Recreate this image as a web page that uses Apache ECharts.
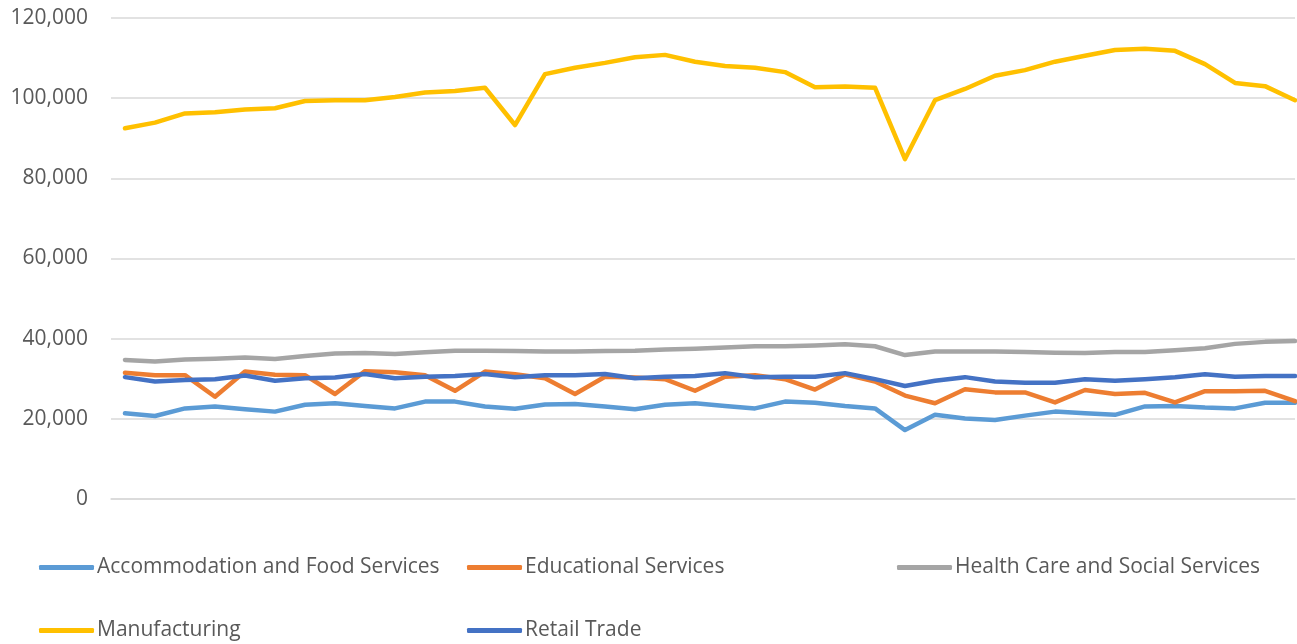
<!DOCTYPE html>
<html>
<head>
<meta charset="utf-8">
<script src="https://cdn.jsdelivr.net/npm/echarts@6/dist/echarts.min.js"></script>
<style>
html,body{margin:0;padding:0;background:#fff;}
#chart{width:1297px;height:644px;}
</style>
</head>
<body>
<div id="chart"></div>
<script>
const periods = Array.from({length: 40}, (_, i) => i);

const seriesNames = [
  'Accommodation and Food Services',
  'Educational Services',
  'Health Care and Social Services',
  'Manufacturing',
  'Retail Trade'
];

const accommodation = [21400, 20700, 22600, 23100, 22400, 21800, 23500, 23900, 23200, 22600,
  24300, 24300, 23100, 22500, 23600, 23700, 23100, 22400, 23500, 23900,
  23200, 22600, 24300, 24000, 23200, 22600, 17200, 21000, 20100, 19700,
  20800, 21800, 21400, 21000, 23100, 23200, 22800, 22600, 24000, 24000];

const educational = [31500, 30900, 30900, 25500, 31800, 31000, 30900, 26200, 31900, 31600,
  30900, 27000, 31800, 31100, 30100, 26200, 30500, 30300, 29900, 27000,
  30500, 30900, 29900, 27300, 31100, 29300, 25800, 23900, 27400, 26600,
  26600, 24100, 27200, 26200, 26500, 24100, 26900, 26900, 27000, 24400];

const healthCare = [34700, 34300, 34800, 35000, 35300, 34900, 35700, 36300, 36400, 36200,
  36600, 37000, 37000, 36900, 36800, 36800, 36900, 37000, 37300, 37500,
  37800, 38100, 38100, 38300, 38600, 38100, 35900, 36800, 36800, 36800,
  36700, 36500, 36400, 36700, 36700, 37100, 37600, 38700, 39200, 39400];

const manufacturing = [92500, 93900, 96200, 96500, 97200, 97500, 99300, 99500, 99500, 100300,
  101400, 101800, 102600, 93300, 106000, 107600, 108800, 110200, 110800, 109100,
  108000, 107600, 106500, 102700, 102900, 102600, 84800, 99500, 102300, 105600,
  107000, 109100, 110600, 112000, 112300, 111800, 108500, 103800, 103000, 99500];

const retail = [30400, 29300, 29700, 29900, 30800, 29500, 30100, 30300, 31200, 30100,
  30500, 30700, 31200, 30400, 30900, 30900, 31200, 30100, 30500, 30700,
  31400, 30400, 30500, 30500, 31400, 29900, 28200, 29500, 30400, 29300,
  29000, 29000, 29900, 29500, 29900, 30400, 31100, 30500, 30700, 30700];

const yTicks = [0, 20000, 40000, 60000, 80000, 100000, 120000];

const colors = ['#5B9BD5', '#ED7D31', '#A5A5A5', '#FFC000', '#4472C4'];
const allData = [accommodation, educational, healthCare, manufacturing, retail];

const FONT = 'Open Sans';
const TXT = '#595959';

const chart = echarts.init(document.getElementById('chart'), null, {renderer: 'canvas'});

const legendPos = [
  {left: 34, top: 552},
  {left: 462, top: 552},
  {left: 892, top: 552},
  {left: 34, top: 615},
  {left: 462, top: 615}
];

const option = {
  backgroundColor: '#ffffff',
  animation: false,
  color: colors,
  grid: {left: 111, top: 18, right: 2, height: 481, containLabel: false},
  xAxis: {
    type: 'value',
    min: -14 / 30,
    max: periods.length - 1,
    axisLine: {show: true, lineStyle: {color: '#d9d9d9', width: 1.5}},
    axisTick: {show: false},
    axisLabel: {show: false},
    splitLine: {show: false}
  },
  yAxis: {
    type: 'value',
    min: yTicks[0],
    max: yTicks[yTicks.length - 1],
    interval: 20000,
    axisLine: {show: false},
    axisTick: {show: false},
    axisLabel: {
      margin: 23,
      color: TXT,
      fontFamily: FONT,
      fontSize: 21,
      formatter: v => v.toLocaleString('en-US')
    },
    splitLine: {show: true, lineStyle: {color: '#d9d9d9', width: 1.5}}
  },
  legend: seriesNames.map((n, i) => ({
    data: [n],
    left: legendPos[i].left,
    top: legendPos[i].top,
    orient: 'horizontal',
    itemWidth: 55,
    itemHeight: 5,
    itemGap: 0,
    icon: 'roundRect',
    textStyle: {color: TXT, fontFamily: FONT, fontSize: 21, padding: [0, 0, 0, -2]}
  })),
  series: seriesNames.map((n, i) => ({
    name: n,
    type: 'line',
    data: periods.map((p, j) => [p, allData[i][j]]),
    showSymbol: false,
    symbol: 'none',
    lineStyle: {width: 4.5, color: colors[i], cap: 'round', join: 'round'},
    itemStyle: {color: colors[i]}
  }))
};

chart.setOption(option);
</script>
</body>
</html>
